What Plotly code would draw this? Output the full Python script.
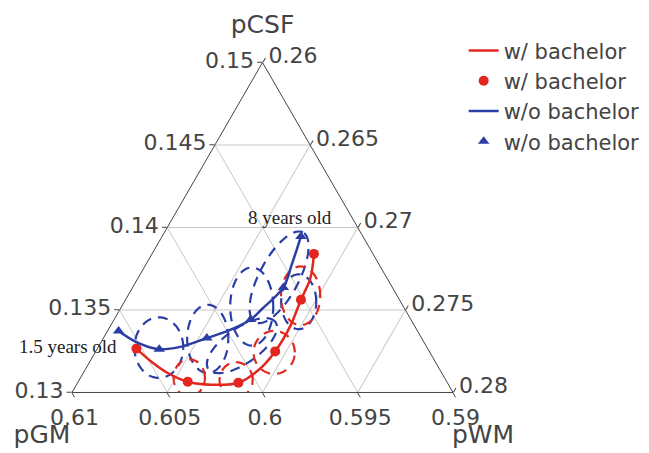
import numpy as np
import plotly.graph_objects as go

# ---------------- data (ternary values: a=pCSF, b=pGM, c=pWM) ----------------
# markers (ages 1.5 ... 8 years)
red_pt_a = [0.13266, 0.13065, 0.13059, 0.13249, 0.13562, 0.13840]
red_pt_c = [0.26205, 0.26575, 0.26844, 0.26942, 0.26921, 0.26850]
blue_pt_a = [0.13373, 0.13262, 0.13330, 0.13442, 0.13637, 0.13945]
blue_pt_c = [0.26058, 0.26327, 0.26543, 0.26717, 0.26791, 0.26729]

# trajectories
red_line_a = [0.13266, 0.13183, 0.13118, 0.13065, 0.13047, 0.13059, 0.13136, 0.13249, 0.13396, 0.13562, 0.13692, 0.13840]
red_line_c = [0.26205, 0.26329, 0.26443, 0.26575, 0.26705, 0.26844, 0.26911, 0.26942, 0.26945, 0.26921, 0.26905, 0.26850]
blue_line_a = [0.13373, 0.13302, 0.13262, 0.13278, 0.13330, 0.13379, 0.13442, 0.13503, 0.13637, 0.13775, 0.13945]
blue_line_c = [0.26058, 0.26193, 0.26327, 0.26435, 0.26543, 0.26641, 0.26717, 0.26743, 0.26791, 0.26766, 0.26729]

# confidence ellipses: centre (a, c), semi-axes (axis units), rotation (deg)
blue_ell_a = [0.13272, 0.13325, 0.13284, 0.13521, 0.13698, 0.13550]
blue_ell_c = [0.26320, 0.26550, 0.26750, 0.26683, 0.26738, 0.26915]
blue_ell_r1 = [0.00128, 0.00108, 0.00215, 0.00113, 0.00267, 0.00092]
blue_ell_r2 = [0.00159, 0.00179, 0.00092, 0.00205, 0.00103, 0.00144]
blue_ell_rot = [0, 0, 35, 0, 62, 0]

red_ell_a = [0.13089, 0.13077, 0.13243, 0.13586]
red_ell_c = [0.26571, 0.26823, 0.26940, 0.26907]
red_ell_r1 = [0.00082, 0.00087, 0.00108, 0.00103]
red_ell_r2 = [0.00097, 0.00092, 0.00113, 0.00154]
red_ell_rot = [0, 0, 0, 0]

RED = "#e3261f"
BLUE = "#2b3ea6"
FONT = "Verdana, DejaVu Sans, sans-serif"
SERIF = "Liberation Serif, serif"


def bvals(a, c):
    return [1 - x - y for x, y in zip(a, c)]


def ellipse(a0, c0, r1, r2, rot, n=120):
    t = np.linspace(0, 2 * np.pi, n)
    s3 = np.sqrt(3) / 2
    X0 = c0 + a0 / 2
    Y0 = a0 * s3
    ph = np.deg2rad(rot)
    X = X0 + r1 * np.cos(t) * np.cos(ph) - r2 * np.sin(t) * np.sin(ph)
    Y = Y0 + r1 * np.cos(t) * np.sin(ph) + r2 * np.sin(t) * np.cos(ph)
    a = Y / s3
    c = X - a / 2
    b = 1 - a - c
    return a, b, c


fig = go.Figure()

for i in range(len(blue_ell_a)):
    a, b, c = ellipse(blue_ell_a[i], blue_ell_c[i], blue_ell_r1[i], blue_ell_r2[i], blue_ell_rot[i])
    fig.add_trace(go.Scatterternary(a=a, b=b, c=c, mode="lines", showlegend=False, hoverinfo="skip",
                                    line=dict(color=BLUE, width=2.2, dash="10px,7px")))
for i in range(len(red_ell_a)):
    a, b, c = ellipse(red_ell_a[i], red_ell_c[i], red_ell_r1[i], red_ell_r2[i], red_ell_rot[i])
    fig.add_trace(go.Scatterternary(a=a, b=b, c=c, mode="lines", showlegend=False, hoverinfo="skip",
                                    line=dict(color=RED, width=2.2, dash="10px,7px")))

fig.add_trace(go.Scatterternary(a=red_line_a, b=bvals(red_line_a, red_line_c), c=red_line_c,
                                mode="lines", name="w/ bachelor",
                                line=dict(color=RED, width=2.5, shape="spline")))
fig.add_trace(go.Scatterternary(a=red_pt_a, b=bvals(red_pt_a, red_pt_c), c=red_pt_c,
                                mode="markers", name="w/ bachelor",
                                marker=dict(color=RED, size=10, symbol="circle")))
fig.add_trace(go.Scatterternary(a=blue_line_a, b=bvals(blue_line_a, blue_line_c), c=blue_line_c,
                                mode="lines", name="w/o bachelor",
                                line=dict(color=BLUE, width=2.5, shape="spline")))
fig.add_trace(go.Scatterternary(a=blue_pt_a, b=bvals(blue_pt_a, blue_pt_c), c=blue_pt_c,
                                mode="markers", name="w/o bachelor",
                                marker=dict(color=BLUE, size=10, symbol="triangle-up")))

axis_common = dict(ticks="outside", ticklen=5, tickcolor="#444", linecolor="#444", linewidth=1,
                   gridcolor="#c8c8c8", gridwidth=1, tickfont=dict(size=22, color="#444", family=FONT),
                   dtick=0.005, showgrid=True)

fig.update_layout(
    width=649, height=453,
    margin=dict(l=64, r=189, t=48, b=62),
    paper_bgcolor="white",
    font=dict(family=FONT, size=20, color="#444"),
    ternary=dict(
        sum=1,
        bgcolor="white",
        aaxis=dict(title=dict(text="pCSF", font=dict(size=25)), min=0.13, tick0=0.13, **axis_common),
        baxis=dict(title=dict(text="pGM", font=dict(size=25)), min=0.59, tick0=0.59, **axis_common),
        caxis=dict(title=dict(text="pWM", font=dict(size=25)), min=0.26, tick0=0.26, **axis_common),
    ),
    legend=dict(x=1.028, y=1.075, xanchor="left", yanchor="top", font=dict(size=21, color="#444"),
                bgcolor="rgba(0,0,0,0)"),
    annotations=[
        dict(text="8 years old", x=0.573, y=0.528, xref="paper", yref="paper", showarrow=False,
             xanchor="center", yanchor="middle",
             font=dict(family=SERIF, size=19, color="#222")),
        dict(text="1.5 years old", x=-0.011, y=0.152, xref="paper", yref="paper", showarrow=False,
             xanchor="center", yanchor="middle",
             font=dict(family=SERIF, size=19, color="#222")),
    ],
)

fig.write_html("out.html")
